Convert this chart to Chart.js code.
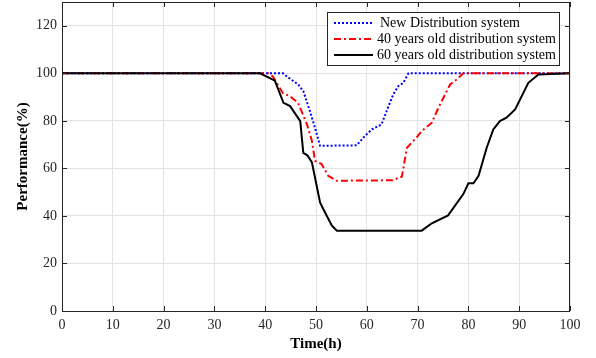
<!DOCTYPE html>
<html>
<head>
<meta charset="utf-8">
<script src="https://cdn.jsdelivr.net/npm/chart.js@4/dist/chart.umd.min.js"></script>
<style>
  body { margin: 0; background: #fff; }
  #wrap { width: 596px; height: 358px; }
</style>
</head>
<body>
<div id="wrap"><canvas id="perfChart"></canvas></div>
<script>
// Tick labels
const xTicks = [0, 10, 20, 30, 40, 50, 60, 70, 80, 90, 100];
const yTicks = [0, 20, 40, 60, 80, 100, 120];

// New distribution system
const newTime = [0, 43.5, 44.5, 46.5, 47.5, 48.8, 49.8, 50.8, 58, 59.6, 61, 62.9, 63.9, 65.2, 66.2, 67.2, 68.2, 100];
const newPerf = [100, 100, 98.3, 95.3, 92.5, 84.1, 77.1, 69.5, 69.7, 73.6, 76.4, 78.5, 84.1, 91.1, 94.6, 96, 100, 100];

// 40 years old distribution system
const oldTime40 = [0, 40.6, 41.5, 43.5, 44.9, 46.5, 48.2, 49.2, 49.8, 51.1, 52.4, 54.1, 65, 66.9, 67.9, 69.8, 70.8, 72.8, 74.1, 76.4, 77.7, 79, 100];
const oldPerf40 = [100, 100, 98.7, 91.6, 90.4, 87.4, 78.7, 71.5, 63.2, 61.8, 56.9, 54.8, 55, 56.5, 68.7, 73, 75.7, 79.2, 85.5, 95.3, 97.4, 100, 100];

// 60 years old distribution system
const oldTime60 = [0, 39, 41.9, 43.6, 44.9, 46.9, 47.5, 48.3, 49.2, 50.8, 51.4, 53.1, 54.1, 70.8, 72.8, 76, 79, 80, 81, 82, 83.6, 84.9, 86.2, 87.5, 89.2, 91.8, 93.8, 100];
const oldPerf60 = [100, 100, 96.9, 87.6, 86.2, 79.9, 66.5, 65.5, 62.5, 45.7, 43, 36, 33.8, 33.8, 36.9, 40.2, 49.2, 53.7, 53.7, 56.9, 68.7, 76.4, 79.9, 81.3, 84.8, 96, 99.5, 100];

const legendLabels = ['New Distribution system', '40 years old distribution system', '60 years old distribution system'];

const serif = "'Liberation Serif', 'Times New Roman', serif";
const axisColor = '#262626';

function toPoints(xs, ys) {
    return xs.map((x, i) => ({ x: x, y: ys[i] }));
}

const series = [
    { label: legendLabels[0], data: toPoints(newTime, newPerf), color: '#0000ff', dash: [2, 2], order: 2 },
    { label: legendLabels[1], data: toPoints(oldTime40, oldPerf40), color: '#ff0000', dash: [7, 3, 2, 3], order: 1 },
    { label: legendLabels[2], data: toPoints(oldTime60, oldPerf60), color: '#000000', dash: [], order: 0 }
];

// frame, inward ticks on all four sides and the boxed legend
const framePlugin = {
    id: 'frame',
    afterDraw(chart) {
        const c = chart.ctx;
        const a = chart.chartArea;
        const xs = chart.scales.x, ys = chart.scales.y;
        c.save();
        c.strokeStyle = axisColor;
        c.lineWidth = 1;
        c.beginPath();
        xTicks.forEach(v => {
            const px = Math.round(xs.getPixelForValue(v)) + 0.5;
            c.moveTo(px, a.bottom); c.lineTo(px, a.bottom - 5);
            c.moveTo(px, a.top); c.lineTo(px, a.top + 5);
        });
        yTicks.forEach(v => {
            const py = Math.round(ys.getPixelForValue(v)) + 0.5;
            c.moveTo(a.left, py); c.lineTo(a.left + 5, py);
            c.moveTo(a.right, py); c.lineTo(a.right - 5, py);
        });
        c.stroke();
        c.strokeRect(a.left + 0.5, a.top + 0.5, a.right - a.left - 1, a.bottom - a.top);

        // legend
        const lx = 327, ly = 12, lw = 232, lh = 53;
        c.fillStyle = '#fff';
        c.fillRect(lx, ly, lw, lh);
        c.strokeStyle = axisColor;
        c.strokeRect(lx + 0.5, ly + 0.5, lw, lh);
        c.font = '14px ' + serif;
        c.textBaseline = 'middle';
        series.forEach((s, i) => {
            const y = ly + 11 + i * 16;
            c.strokeStyle = s.color;
            c.lineWidth = 2;
            c.setLineDash(s.dash);
            c.beginPath();
            c.moveTo(lx + 7, y); c.lineTo(lx + 46, y);
            c.stroke();
            c.setLineDash([]);
            c.fillStyle = '#000';
            c.fillText(s.label, i === 0 ? lx + 53 : lx + 50, y);
        });
        c.restore();
    }
};

new Chart(document.getElementById('perfChart'), {
    type: 'scatter',
    data: {
        datasets: series.map(s => ({
            label: s.label,
            data: s.data,
            showLine: true,
            borderColor: s.color,
            backgroundColor: s.color,
            borderWidth: 2,
            borderDash: s.dash,
            pointRadius: 0,
            tension: 0,
            order: s.order
        }))
    },
    options: {
        responsive: true,
        maintainAspectRatio: false,
        animation: false,
        layout: { padding: { top: 2, right: 26, left: 0, bottom: 0 } },
        plugins: {
            legend: { display: false },
            tooltip: { enabled: false }
        },
        scales: {
            x: {
                type: 'linear',
                min: 0,
                max: 100,
                afterBuildTicks: axis => { axis.ticks = xTicks.map(v => ({ value: v })); },
                afterFit: axis => { axis.height = 47; axis.paddingLeft = 0; axis.paddingRight = 0; },
                grid: { color: '#e3e3e3', drawTicks: false },
                border: { display: false },
                ticks: { color: axisColor, padding: 6, font: { family: serif, size: 14 } },
                title: {
                    display: true,
                    text: 'Time(h)',
                    color: '#000',
                    font: { family: serif, size: 15, weight: 'bold' },
                    padding: { top: 0, bottom: 5 }
                }
            },
            y: {
                min: 0,
                max: 130,
                afterBuildTicks: axis => { axis.ticks = yTicks.map(v => ({ value: v })); },
                afterFit: axis => { axis.width = 62; axis.paddingTop = 0; axis.paddingBottom = 0; },
                grid: { color: '#e3e3e3', drawTicks: false },
                border: { display: false },
                ticks: { color: axisColor, padding: 5, font: { family: serif, size: 14 } },
                title: {
                    display: true,
                    text: 'Performance(%)',
                    color: '#000',
                    font: { family: serif, size: 15, weight: 'bold' },
                    padding: { top: 14, bottom: 0 }
                }
            }
        }
    },
    plugins: [framePlugin]
});
</script>
</body>
</html>
